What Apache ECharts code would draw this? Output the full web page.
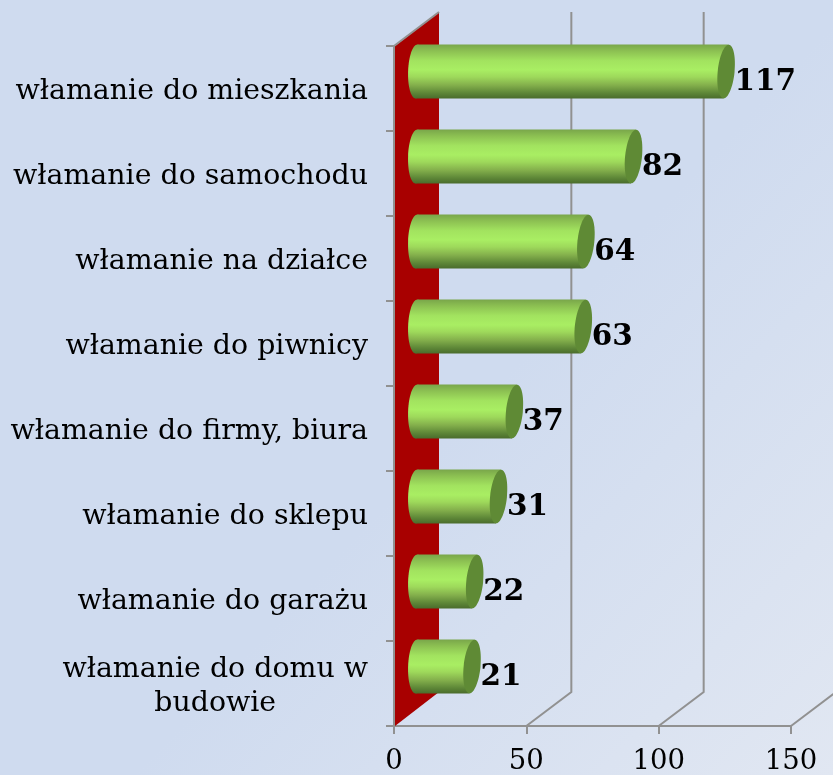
<!DOCTYPE html>
<html><head><meta charset="utf-8">
<style>html,body{margin:0;padding:0;background:#d3deef}#c{width:833px;height:775px}</style>
<script src="https://cdn.jsdelivr.net/npm/echarts@6/dist/echarts.min.js"></script>
</head><body><div id="c"></div>
<script>
const categories = ["włamanie do mieszkania","włamanie do samochodu","włamanie na działce","włamanie do piwnicy","włamanie do firmy, biura","włamanie do sklepu","włamanie do garażu","włamanie do domu w\nbudowie"];
const values = [117,82,64,63,37,31,22,21];
const ticks = [0,50,100,150];

const DX = 45, DY = -34, GREY = '#919191', FONT = '"DejaVu Serif"';
const TILT = 6*Math.PI/180, TILT_L = 2*Math.PI/180;
const chart = echarts.init(document.getElementById('c'), null, {renderer:'canvas'});

function wallItem(p, api){
  const cs = p.coordSys, v = api.value(0), x = api.coord([v,0])[0];
  const top = cs.y, bot = cs.y + cs.height;
  const kids = [];
  if (v === 0) {
    kids.push({type:'polygon', shape:{points:[[x+1,top],[x+DX,top+DY],[x+DX,bot+DY],[x+1,bot]]}, style:{fill:'#a80000'}});
    kids.push({type:'polyline', shape:{points:[[x,top],[x+DX,top+DY]]}, style:{stroke:GREY,lineWidth:2,fill:null}});
  } else {
    kids.push({type:'polyline', shape:{points:[[x,bot],[x+DX,bot+DY],[x+DX,top+DY]]}, style:{stroke:GREY,lineWidth:2,fill:null}});
  }
  return {type:'group', children:kids};
}

function barItem(p, api){
  const v = api.value(0), c = api.value(1);
  const s = api.coord([0,c]), e = api.coord([v,c]);
  const band = api.size([0,1])[1], h = band*0.635;
  const x0 = s[0]+DX/2, x1 = e[0]+DX/2, cy = s[1]+DY/2, r = 8.4, sk = 2.5, skL = 1;
  const grad = () => new echarts.graphic.LinearGradient(0,0,0,1,[
    {offset:0,color:'#79a64a'},{offset:0.12,color:'#8cc052'},{offset:0.3,color:'#a2e35f'},
    {offset:0.47,color:'#a9ee63'},{offset:0.6,color:'#9ed95b'},{offset:0.75,color:'#84b04c'},
    {offset:0.9,color:'#5d8637'},{offset:1,color:'#4a6c2c'}]);
  return {type:'group', children:[
    {type:'ellipse', x:x0,y:cy,originX:0,originY:0,rotation:-TILT_L, shape:{cx:0,cy:0,rx:r,ry:h/2}, style:{fill:grad()}},
    {type:'polygon', shape:{points:[[x0+skL,cy-h/2],[x1+sk,cy-h/2],[x1-sk,cy+h/2],[x0-skL,cy+h/2]]}, style:{fill:grad()}},
    {type:'ellipse', x:x1,y:cy,originX:0,originY:0,rotation:-TILT, shape:{cx:0,cy:0,rx:r,ry:h/2}, style:{fill:'#5f8a35'}},
    {type:'text', x:x1+r, y:cy+10.5, style:{text:String(v),fill:'#000',font:'bold 29.5px '+FONT,textAlign:'left',textVerticalAlign:'middle'}}
  ]};
}

chart.setOption({
  animation:false,
  backgroundColor:new echarts.graphic.LinearGradient(0,0,1,1,[{offset:0,color:'#cfdbef'},{offset:0.55,color:'#cfdbef'},{offset:1,color:'#e1e7f2'}]),
  grid:{left:394,right:42,top:46,bottom:49,containLabel:false,outerBoundsMode:'none'},
  xAxis:{type:'value',min:0,max:150,interval:50,splitLine:{show:false},
    axisLine:{show:true,lineStyle:{color:GREY,width:2}},
    axisTick:{show:true,length:8,lineStyle:{color:GREY,width:2}},
    axisLabel:{color:'#000',fontFamily:FONT,fontSize:27.5,margin:22,formatter:(v)=>ticks.includes(v)?String(v):''}},
  yAxis:{type:'category',inverse:true,data:categories,
    axisLine:{show:true,lineStyle:{color:GREY,width:2}},
    axisTick:{show:true,length:8,alignWithLabel:false,lineStyle:{color:GREY,width:2}},
    axisLabel:{color:'#000',fontFamily:FONT,fontSize:28.4,margin:26,lineHeight:34,interval:0,padding:[7,0,0,0],
      formatter:(s)=>s.split('\n').map(l=>'{a|'+l+'}').join('\n'),
      rich:{a:{color:'#000',fontFamily:FONT,fontSize:28.4,lineHeight:34,align:'center'}}}},
  series:[
    {type:'custom',data:ticks.map(t=>[t]),encode:{x:0},renderItem:wallItem,silent:true,z:1,clip:false},
    {type:'custom',data:values.map((v,i)=>[v,i]),encode:{x:0,y:1},renderItem:barItem,silent:true,z:3,clip:false}
  ]
});
</script></body></html>
